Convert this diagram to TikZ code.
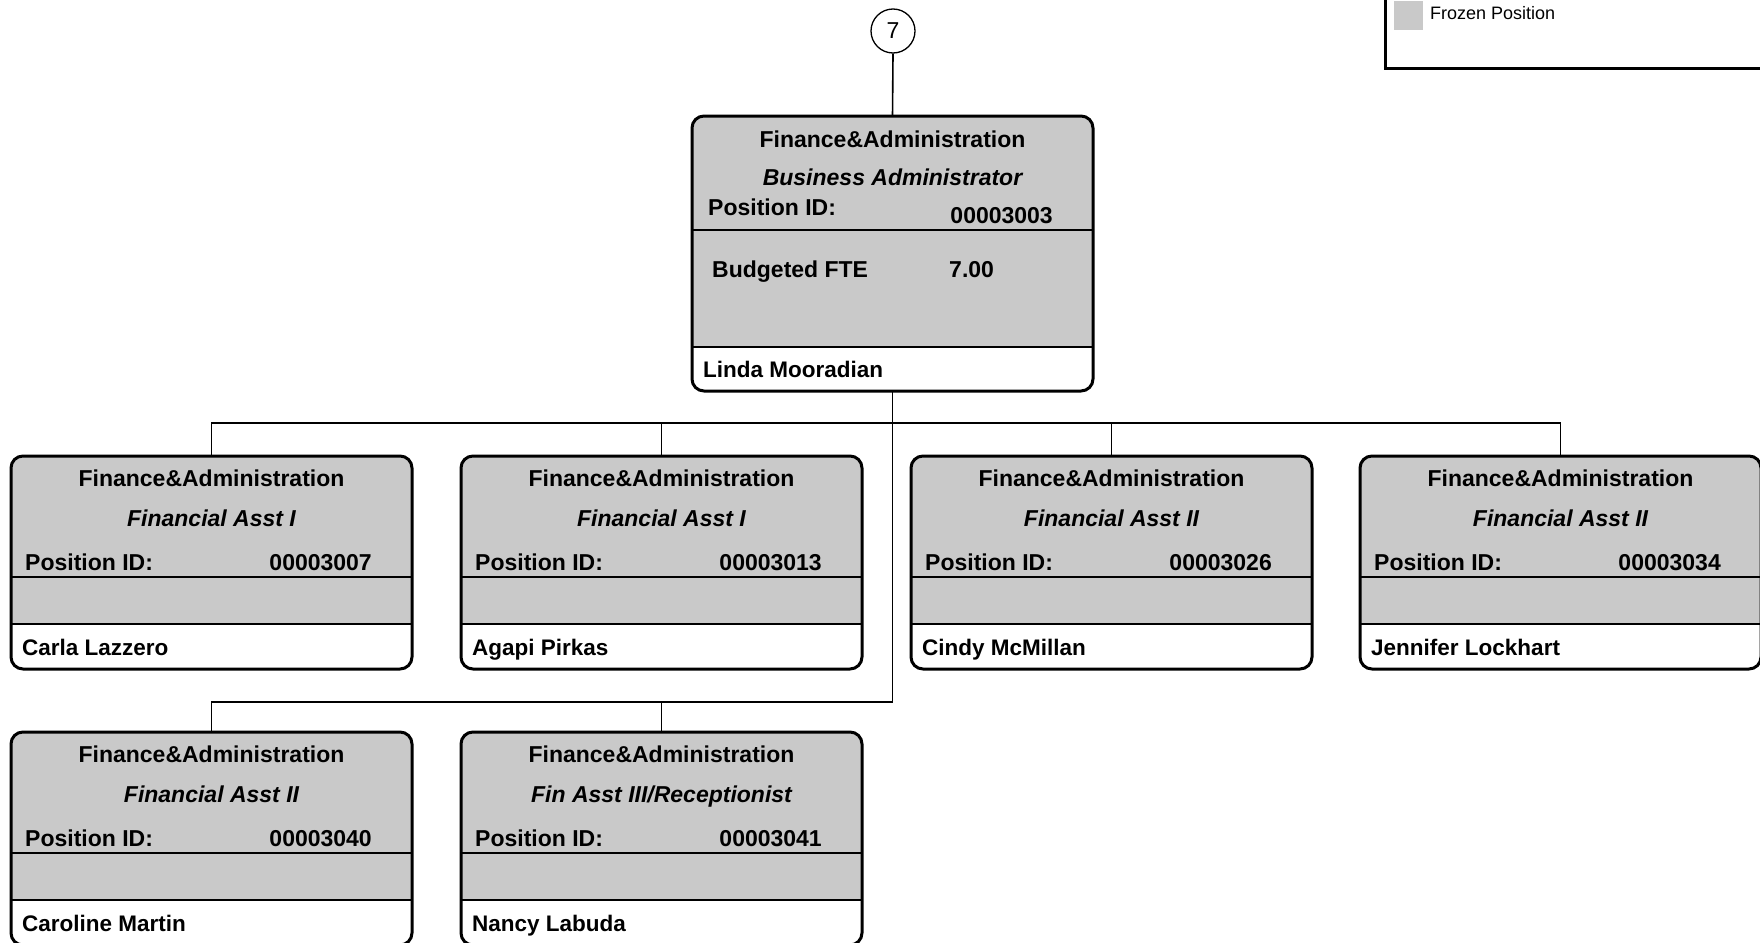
\documentclass[tikz,border=0pt]{standalone}
\usepackage{fontspec}
\setmainfont{Liberation Sans}
\usetikzlibrary{calc}

\definecolor{frozengray}{gray}{0.79}

\tikzset{
  boxframe/.style={draw=black, line width=3pt, rounded corners=12pt,
    minimum width=401pt, inner sep=0pt, outer sep=0pt},
  divider/.style={draw=black, line width=2pt},
  link/.style={draw=black, line width=1.6pt},
  dept/.style={anchor=base, inner sep=0pt, font=\fontsize{23}{27}\selectfont\bfseries},
  jobtitle/.style={anchor=base, inner sep=0pt, font=\fontsize{23}{27}\selectfont\bfseries\itshape},
  fieldlabel/.style={anchor=base west, inner sep=0pt, font=\fontsize{23}{27}\selectfont\bfseries},
  fieldvalue/.style={anchor=base east, inner sep=0pt, font=\fontsize{23}{27}\selectfont\bfseries},
  person/.style={anchor=base west, inner sep=0pt, font=\fontsize{22.5}{27}\selectfont\bfseries},
}

% One position box: #1 name, #2 left, #3 top, #4 job title, #5 position id, #6 incumbent
\newcommand\positionbox[6]{%
  \fill[frozengray] (#2,{#3+168}) {[rounded corners=12pt] -- (#2,#3) -- ({#2+401},#3)} -- ({#2+401},{#3+168}) -- cycle;
  \node[boxframe, minimum height=213pt, anchor=north west] (#1) at (#2,#3) {};
  \draw[divider] (#2,{#3+121}) -- ({#2+401},{#3+121});
  \draw[divider] (#2,{#3+168}) -- ({#2+401},{#3+168});
  \node[dept] (#1-dept) at ({#2+200.5},{#3+30}) {Finance\&Administration};
  \node[jobtitle] (#1-title) at ({#2+200.5},{#3+70}) {#4};
  \node[fieldlabel] (#1-idlabel) at ({#2+14},{#3+114}) {Position ID:};
  \node[fieldvalue] (#1-id) at ({#2+361},{#3+114}) {#5};
  \node[person] (#1-name) at ({#2+11},{#3+199}) {#6};
}

\begin{document}
\begin{tikzpicture}[x=1pt, y=-1pt]
\useasboundingbox (0,0) rectangle (1760,942);
\clip (0,0) rectangle (1760,942);

% legend
\draw[line width=3pt] (1385,-5) -- (1385,68) -- (1765,68);
\node[fill=frozengray, minimum width=29pt, minimum height=29pt, inner sep=0pt, anchor=north west]
  (legswatch) at (1394,1) {};
\node[anchor=base west, inner sep=0pt, font=\fontsize{18}{22}\selectfont] (legtext)
  at (1430,20) {Frozen Position};

% off-page connector
\node[circle, draw, line width=1.3pt, minimum size=44pt, inner sep=0pt,
  font=\fontsize{23}{27}\selectfont] (circ) at (893,31) {7};

% manager box
\fill[frozengray] (692,347) {[rounded corners=12pt] -- (692,116) -- (1093,116)} -- (1093,347) -- cycle;
\node[boxframe, minimum height=275pt, anchor=north west] (mgr) at (692,116) {};
\draw[divider] (692,230) -- (1093,230);
\draw[divider] (692,347) -- (1093,347);
\node[dept] (mgr-dept) at (892.5,147) {Finance\&Administration};
\node[jobtitle] (mgr-title) at (892.5,185) {Business Administrator};
\node[fieldlabel] (mgr-idlabel) at (708,215) {Position ID:};
\node[fieldvalue] (mgr-id) at (1053,223) {00003003};
\node[fieldlabel] (mgr-fte) at (712,277) {Budgeted FTE};
\node[fieldlabel] (mgr-ftevalue) at (949,277) {7.00};
\node[person] (mgr-name) at (703,377) {Linda Mooradian};

% direct reports
\positionbox{c1}{11}{456}{Financial Asst I}{00003007}{Carla Lazzero}
\positionbox{c2}{461}{456}{Financial Asst I}{00003013}{Agapi Pirkas}
\positionbox{c3}{911}{456}{Financial Asst II}{00003026}{Cindy McMillan}
\positionbox{c4}{1360}{456}{Financial Asst II}{00003034}{Jennifer Lockhart}
\positionbox{c5}{11}{732}{Financial Asst II}{00003040}{Caroline Martin}
\positionbox{c6}{461}{732}{Fin Asst III/Receptionist}{00003041}{Nancy Labuda}

% reporting lines
\coordinate (barA) at (0,423);
\coordinate (barB) at (0,702);
\draw[link] (circ.south) -- (mgr.north);
\draw[link] (mgr.south) -- (mgr.south |- barB);
\draw[link] (c1.north) -- (c1.north |- barA) -- (c4.north |- barA) -- (c4.north);
\draw[link] (c2.north) -- (c2.north |- barA);
\draw[link] (c3.north) -- (c3.north |- barA);
\draw[link] (c5.north) -- (c5.north |- barB) -- (mgr.south |- barB);
\draw[link] (c6.north) -- (c6.north |- barB);
\end{tikzpicture}
\end{document}
